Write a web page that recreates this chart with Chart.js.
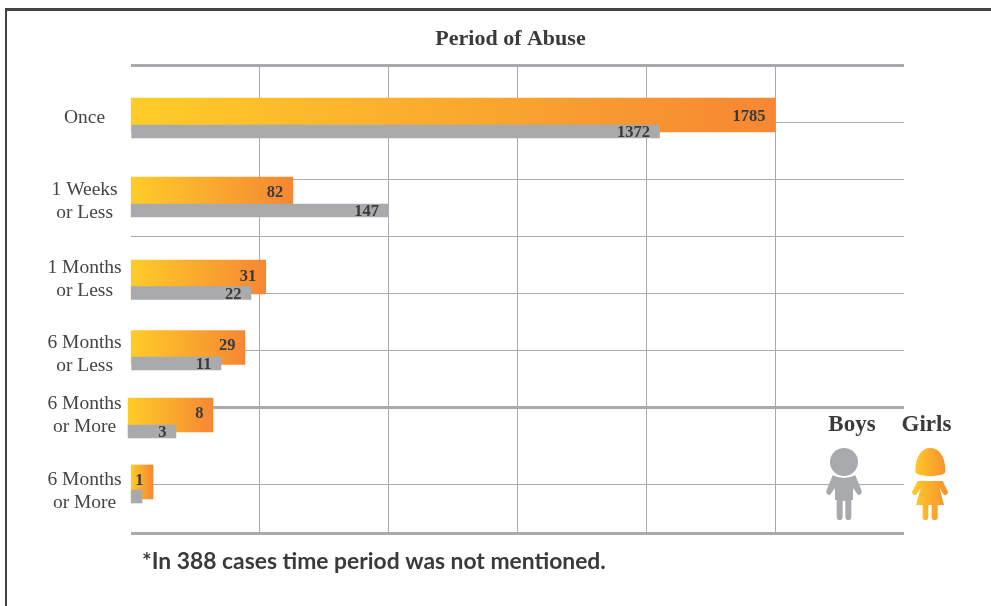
<!DOCTYPE html>
<html>
<head>
<meta charset="utf-8">
<title>Period of Abuse</title>
<script src="https://cdn.jsdelivr.net/npm/chart.js@4"></script>
<style>
html,body{margin:0;padding:0;background:#fff;overflow:hidden}
#wrap{position:relative;width:991px;height:606px}
#frame{position:absolute;left:5px;top:8px;right:0;bottom:0;border-top:3px solid #434345;border-left:2px solid #434345}
canvas{position:absolute;left:0;top:0}
</style>
</head>
<body>
<div id="wrap"><div id="frame"></div><canvas id="c" width="991" height="606"></canvas></div>
<script>
// Printed values, as shown on the bars
const categories = [["Once"],["1 Weeks","or Less"],["1 Months","or Less"],["6 Months","or Less"],["6 Months","or More"],["6 Months","or More"]];
const girlsPrinted = [1785,82,31,29,8,1];
const boysPrinted  = [1372,147,22,11,3,null];
// The source infographic's bars are not to scale with their printed values,
// so drawn lengths are read separately, in gridline steps of the unlabelled axis.
const girlsBarEnd   = [5.0,1.258,1.048,0.886,0.638,0.173];
const girlsBarStart = [0,0,0,0,-0.02,0];
const boysBarEnd    = [4.103,2.0,0.933,0.70,0.351,0.088];
const boysBarStart  = [0.008,0,0,0.008,-0.02,0];
// Row places on the vertical axis (one unit = one regular horizontal gridline step)
const girlsRow = [0.867,2.252,3.706,4.941,6.124,7.297];
const boysRow  = [1.156,2.541,3.986,5.222,6.413,7.552];
const labelRow = [0.915,2.373,3.74,5.063,6.131,7.462];
const girlsLabelNudge = [0,-2.3,-1.7,-3.5,-3,-3];
const gridRows = [0,1,2,3,4,5,6,7.338,8.2];
const heavyRows = [0,6,8.2];
const xGridTicks = [1,2,3,4,5];
const titleText = "Period of Abuse";
const noteText = "*In 388 cases time period was not mentioned.";
const legendBoys = "Boys", legendGirls = "Girls";

const SERIF = '"Liberation Serif","Times New Roman",serif';
const GREY = '#a9aaad', TEXT = '#3a3a3c', YELLOW = '#ffcc29', ORANGE = '#f68733', NONE = 'rgba(0,0,0,0)';

function barFill(starts, ends){
  return function(ctx){
    const s = ctx.chart.scales.x;
    if(!s || ctx.dataIndex === undefined) return ORANGE;
    const a = s.getPixelForValue(starts[ctx.dataIndex]), b = s.getPixelForValue(ends[ctx.dataIndex]);
    if(!isFinite(a) || !isFinite(b)) return ORANGE;
    const g = ctx.chart.ctx.createLinearGradient(a,0,b,0);
    g.addColorStop(0,YELLOW); g.addColorStop(1,ORANGE);
    return g;
  };
}

const decor = {
  id:'decor',
  afterDatasetsDraw(chart){
    const c = chart.ctx, xs = chart.scales.x, ys = chart.scales.y;
    c.save();
    // value labels
    c.font = 'bold 16.5px '+SERIF; c.fillStyle = TEXT; c.textAlign='right'; c.textBaseline='middle';
    girlsPrinted.forEach((v,i)=>{ c.fillText(String(v), xs.getPixelForValue(girlsBarEnd[i])-9.5, ys.getPixelForValue(girlsRow[i])+girlsLabelNudge[i]+1.5); });
    boysPrinted.forEach((v,i)=>{ if(v!==null) c.fillText(String(v), xs.getPixelForValue(boysBarEnd[i])-9.5, ys.getPixelForValue(boysRow[i])+1.5); });
    // title
    c.textAlign='center';
    c.font = 'bold 22px '+SERIF;
    c.fillText(titleText, 510.5, 39);
    // legend
    c.font = 'bold 23px '+SERIF;
    c.fillText(legendBoys, 852, 425);
    c.fillText(legendGirls, 926.5, 425);
    // footnote
    c.textAlign='left';
    c.font = 'bold 22.85px Lato,sans-serif';
    c.fillText(noteText, 142, 562);
    // legend figures
    c.translate(790,400); c.scale(1/3,1/3);
    c.fillStyle = GREY;
    c.beginPath(); c.arc(162,186,42,0,Math.PI*2); c.fill();
    c.fill(new Path2D('M128 226 Q162 242 196 226 L215 272 Q217 284 204 285 L189 264 L189 300 L184 300 L184 350 Q184 360 175 360 Q166 360 166 350 L166 302 L158 302 L158 350 Q158 360 149 360 Q140 360 140 350 L140 300 L135 300 L135 264 L120 285 Q107 284 109 272 Z'));
    const g = c.createLinearGradient(375,0,470,0);
    g.addColorStop(0,'#ffc829'); g.addColorStop(1,'#f9902f');
    c.fillStyle = g;
    c.fill(new Path2D('M376 214 C376 168 396 144 421 144 C446 144 467 168 466 214 Q466 222 452 225 Q421 232 390 225 Q376 222 376 214 Z'));
    c.fill(new Path2D('M383 243 L458 243 L474 276 Q473 287 461 284 L449 264 L462 315 L443 315 L443 350 Q443 360 434 360 Q425 360 425 350 L425 315 L415 315 L415 350 Q415 360 406 360 Q398 360 398 350 L398 315 L378 315 L392 264 L379 284 Q367 287 366 276 Z'));
    c.restore();
  }
};

new Chart(document.getElementById('c'),{
  type:'bar',
  data:{
    datasets:[
      {label:'Boys', order:1, clip:false, backgroundColor:GREY, barThickness:13, borderWidth:0,
       data:boysBarEnd.map((e,i)=>({x:[boysBarStart[i],e],y:boysRow[i]}))},
      {label:'Girls', order:2, clip:false, backgroundColor:barFill(girlsBarStart,girlsBarEnd), barThickness:34, borderWidth:0,
       data:girlsBarEnd.map((e,i)=>({x:[girlsBarStart[i],e],y:girlsRow[i]}))}
    ]
  },
  options:{
    indexAxis:'y', responsive:false, animation:false, devicePixelRatio:1,
    layout:{padding:{top:65.5,bottom:72.5,left:0,right:87}},
    datasets:{bar:{grouped:false}},
    plugins:{legend:{display:false},tooltip:{enabled:false},title:{display:false}},
    scales:{
      x:{
        type:'linear', min:0, max:6, position:'bottom',
        border:{display:false,color:NONE},
        afterBuildTicks(a){ a.ticks = [0].concat(xGridTicks,[6]).map(v=>({value:v})); },
        afterFit(a){ a.height = 0; },
        grid:{drawTicks:false, lineWidth:1, color(ctx){ return ctx.tick && xGridTicks.includes(ctx.tick.value)?GREY:NONE; }},
        ticks:{display:false}
      },
      y:{
        type:'linear', min:0, max:8.2, reverse:true, offset:false,
        border:{display:false,color:NONE},
        afterBuildTicks(a){ a.ticks = gridRows.concat(labelRow).sort((p,q)=>p-q).map(v=>({value:v})); },
        afterFit(a){ a.width = 130.7; },
        grid:{drawTicks:false, offset:false,
          color(ctx){ return ctx.tick && gridRows.includes(ctx.tick.value)?GREY:NONE; },
          lineWidth(ctx){ return ctx.tick && heavyRows.includes(ctx.tick.value)?3:1; }},
        ticks:{
          autoSkip:false, padding:9, crossAlign:'center', color:'#444446',
          font:{family:SERIF,size:19.5,lineHeight:1.18},
          callback(v){ const i = labelRow.indexOf(v); return i>=0?categories[i]:''; }
        }
      }
    }
  },
  plugins:[decor]
});
</script>
</body>
</html>
